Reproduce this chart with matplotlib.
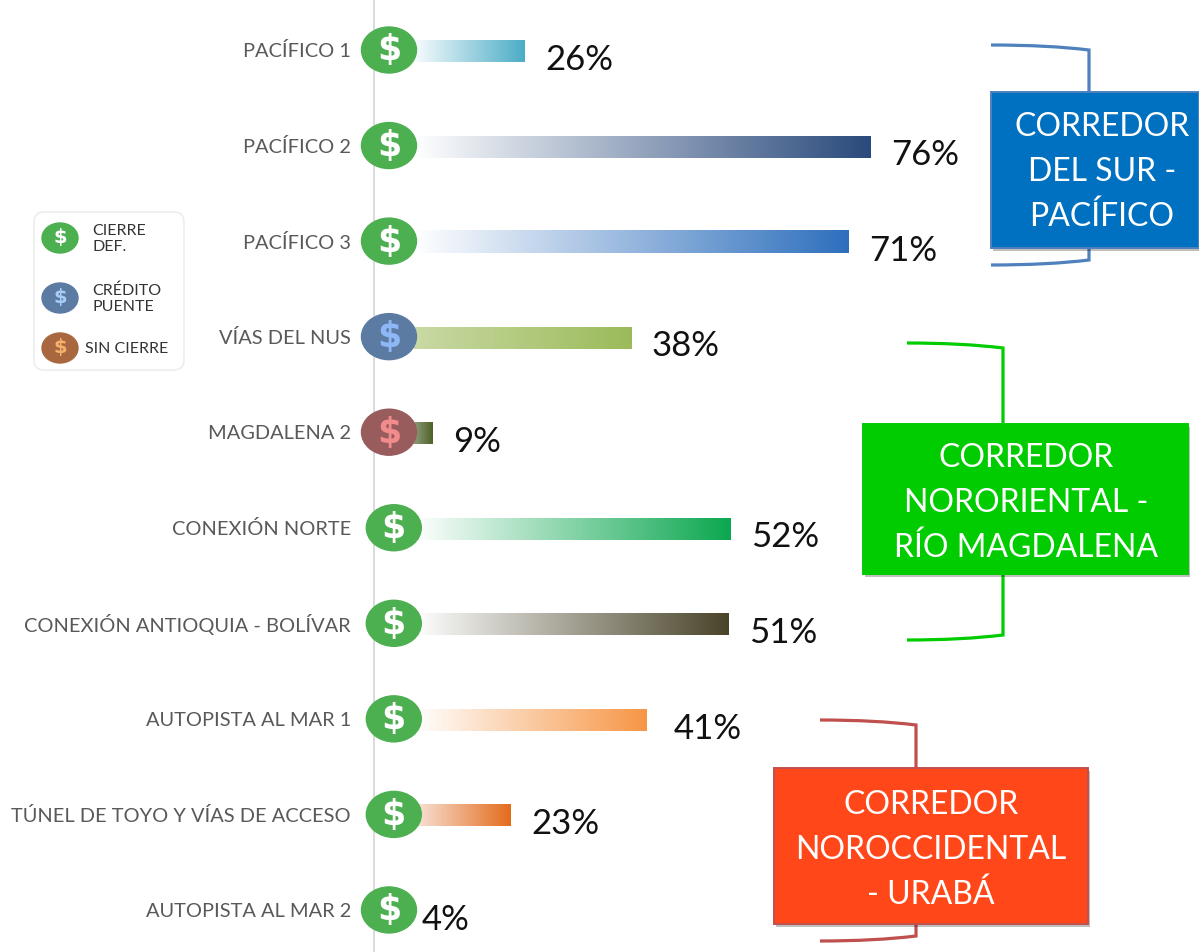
import numpy as np
import matplotlib
matplotlib.use('Agg')
import matplotlib.pyplot as plt
from matplotlib.colors import LinearSegmentedColormap
from matplotlib.patches import Ellipse, Rectangle, FancyBboxPatch, PathPatch
from matplotlib.path import Path

plt.rcParams['font.family'] = ['Lato', 'DejaVu Sans']

W, H = 1199, 952
X0 = 374
PX_PER_UNIT = 6.6
STEP = 95.55
Y_FIRST = 50

projects = ['PACÍFICO 1', 'PACÍFICO 2', 'PACÍFICO 3', 'VÍAS DEL NUS', 'MAGDALENA 2',
            'CONEXIÓN NORTE', 'CONEXIÓN ANTIOQUIA - BOLÍVAR', 'AUTOPISTA AL MAR 1',
            'TÚNEL DE TOYO Y VÍAS DE ACCESO', 'AUTOPISTA AL MAR 2']
# bars in the picture are not quite to scale, so drawn length and printed label differ
bar_len = [22.8, 75.2, 71.9, 38.9, 8.8, 54.0, 53.7, 41.3, 20.6, 4.1]
pct_labels = ['26%', '76%', '71%', '38%', '9%', '52%', '51%', '41%', '23%', '4%']
status = ['cierre', 'cierre', 'cierre', 'puente', 'sin', 'cierre', 'cierre', 'cierre', 'cierre', 'cierre']

bar_start = ['#F8FCFD', '#FFFFFF', '#FFFFFF', '#C9D9A4', '#8C9C78', '#FFFFFF', '#FFFFFF', '#FFFFFF', '#F8E4DA', '#FFFFFF']
bar_end = ['#4BACC6', '#2A4A7C', '#2E6FBD', '#9BBB59', '#4F6228', '#0CA750', '#494429', '#F79646', '#E36C1C', '#FFFFFF']

coin_fill = {'cierre': '#4CAF50', 'puente': '#5B7BA3', 'sin': '#985C5C'}
coin_sign = {'cierre': '#FFFFFF', 'puente': '#8DB8F5', 'sin': '#F28B8B'}

legend_items = [('CIERRE\nDEF.', '#4CAF50', '#FFFFFF'),
                ('CRÉDITO\nPUENTE', '#5B7BA3', '#A8CCF5'),
                ('SIN CIERRE', '#A8673F', '#F5B06A')]

corridors = ['CORREDOR\nDEL SUR -\nPACÍFICO', 'CORREDOR\nNORORIENTAL -\nRÍO MAGDALENA',
             'CORREDOR\nNOROCCIDENTAL\n- URABÁ']

fig = plt.figure(figsize=(W / 100, H / 100), dpi=100)
ax = fig.add_axes([X0 / W, 0, (W - X0) / W, 1])
ax.set_xlim(0, (W - X0) / PX_PER_UNIT)
ax.set_ylim((H - Y_FIRST) / STEP, -Y_FIRST / STEP)

for s in ['top', 'right', 'bottom']:
    ax.spines[s].set_visible(False)
ax.spines['left'].set_color('#DADADA')
ax.spines['left'].set_linewidth(1.4)
ax.set_xticks([])
ax.set_yticks(range(len(projects)))
ax.set_yticklabels(projects, fontsize=14.4, color='#595959')
ax.tick_params(axis='y', length=0, pad=16.5)
ax.patch.set_alpha(0)

bar_h = 22 / STEP
for i, val in enumerate(bar_len):
    cmap = LinearSegmentedColormap.from_list('b%d' % i, [bar_start[i], bar_end[i]])
    grad = np.linspace(0, 1, 256).reshape(1, -1)
    start = 6.0
    if val > start:
        ax.imshow(grad, cmap=cmap, aspect='auto', zorder=2,
                  extent=(start, val, i + 0.01 + bar_h / 2, i + 0.01 - bar_h / 2))
    nudge = 27 if pct_labels[i] == '41%' else 21
    ax.annotate(pct_labels[i], (val, i), xytext=(nudge * 0.72, -7), textcoords='offset points',
                fontsize=25, color='#111111', ha='left', va='center')
ax.set_xlim(0, (W - X0) / PX_PER_UNIT)
ax.set_ylim((H - Y_FIRST) / STEP, -Y_FIRST / STEP)

for i, st in enumerate(status):
    cx = 3.0 if 5 <= i <= 8 else 2.27
    ax.add_patch(Ellipse((cx, i), 55 / PX_PER_UNIT, 46 / STEP, color=coin_fill[st], zorder=4, clip_on=False))
    ax.text(cx, i + 0.005, '$', fontsize=25, fontweight='bold', color=coin_sign[st],
            ha='center', va='center', zorder=5, family='DejaVu Sans', parse_math=False)

# overlay in image pixels for the legend and the corridor callouts
over = fig.add_axes([0, 0, 1, 1])
over.set_xlim(0, W)
over.set_ylim(H, 0)
over.axis('off')

over.add_patch(FancyBboxPatch((40, 218), 138, 146, boxstyle='round,pad=6,rounding_size=10',
                              fc='white', ec='#EDEDED', lw=1.2))
leg_y = [238, 298, 348]
leg_tx = [92, 92, 85]
for (txt, fill, sign), y, tx in zip(legend_items, leg_y, leg_tx):
    over.add_patch(Ellipse((60, y), 36, 30, color=fill))
    over.text(60, y, '$', fontsize=14, fontweight='bold', color=sign, ha='center', va='center',
              family='DejaVu Sans', parse_math=False)
    over.text(tx, y + 1, txt, fontsize=11.5, color='#333333', ha='left', va='center', linespacing=1.2)


def bracket(x0, x1, y_end, y_corner, y_box, color):
    sign = 1 if y_box > y_end else -1
    verts = [(x0, y_end), (x1 - 40, y_end), (x1, y_end + sign * 5), (x1, y_corner), (x1, y_box)]
    codes = [Path.MOVETO, Path.CURVE3, Path.CURVE3, Path.LINETO, Path.LINETO]
    over.add_patch(PathPatch(Path(verts, codes), fc='none', ec=color, lw=2.3, zorder=1))


def callout(x0, y0, x1, y1, fill, edge, txt, fs, ty):
    over.add_patch(Rectangle((x0 + 2, y0 + 3), x1 - x0, y1 - y0, fc='#000000', alpha=0.25, ec='none', zorder=2))
    over.add_patch(Rectangle((x0, y0), x1 - x0, y1 - y0, fc=fill, ec=edge, lw=1.4, zorder=3))
    over.text(ty[0], ty[1], txt, fontsize=fs, color='white', ha='center', va='center',
              linespacing=1.6, zorder=4)


bracket(991, 1089, 45, 62, 92, '#4F81BD')
bracket(991, 1089, 265, 250, 248, '#4F81BD')
callout(991, 92, 1199, 248, '#0070C0', '#4F81BD', corridors[0], 23, (1102, 172))

bracket(907, 1003, 343, 352, 424, '#00CC00')
bracket(907, 1003, 640, 630, 574, '#00CC00')
callout(863, 424, 1188, 574, '#00CC00', '#00CC00', corridors[1], 23, (1026, 503))

bracket(820, 916, 720, 728, 768, '#C0504D')
bracket(820, 916, 941, 932, 924, '#C0504D')
callout(774, 768, 1088, 924, '#FF4719', '#C0504D', corridors[2], 23, (931, 850))

fig.savefig('out.png', dpi=100)
plt.close()
